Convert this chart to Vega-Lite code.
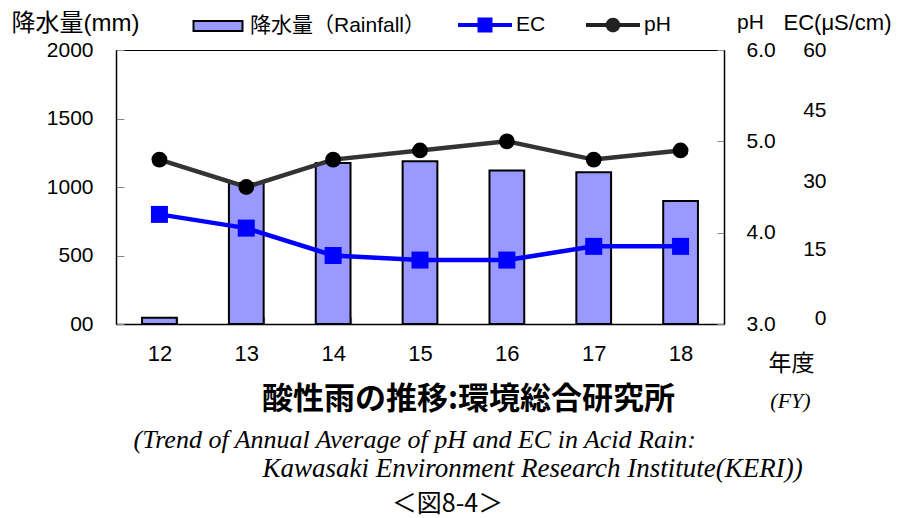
{
  "$schema": "https://vega.github.io/schema/vega-lite/v6.json",
  "width": 608,
  "height": 274,
  "autosize": {"type": "none"},
  "padding": {"left": 116, "top": 50, "right": 173, "bottom": 194},
  "background": "white",
  "data": {
    "values": [
      {"year": "12", "rain": 45, "ec": 24, "ph": 4.8},
      {"year": "13", "rain": 1030, "ec": 21, "ph": 4.5},
      {"year": "14", "rain": 1175, "ec": 15, "ph": 4.8},
      {"year": "15", "rain": 1188, "ec": 14, "ph": 4.9},
      {"year": "16", "rain": 1120, "ec": 14, "ph": 5.0},
      {"year": "17", "rain": 1108, "ec": 17, "ph": 4.8},
      {"year": "18", "rain": 898, "ec": 17, "ph": 4.9}
    ]
  },
  "config": {
    "view": {"stroke": "#000000", "strokeWidth": 1},
    "axis": {"grid": false, "labelColor": "#000000", "titleColor": "#000000", "titleFontWeight": "normal", "titleLimit": 1000, "labelLimit": 1000},
    "legend": {"labelFont": "Liberation Sans, Noto Sans CJK JP", "labelFontSize": 21, "labelColor": "#000000", "labelOffset": 4, "labelLimit": 400, "symbolSize": 2916, "symbolOpacity": 1, "padding": 0}
  },
  "resolve": {
    "scale": {"y": "independent"},
    "axis": {"x": "independent", "y": "independent"}
  },
  "layer": [
    {
      "mark": {"type": "bar", "stroke": "#000000", "strokeWidth": 2},
      "encoding": {
        "x": {
          "field": "year", "type": "ordinal",
          "scale": {"paddingInner": 0.6, "paddingOuter": 0.3},
          "axis": {
            "orient": "bottom", "labelAngle": 0, "labelFont": "Liberation Sans", "labelFontSize": 22,
            "labelPadding": 26, "labelBaseline": "top",
            "tickBand": "extent", "tickSize": -7, "tickColor": "#8c8c8c", "tickWidth": 1.2,
            "domainColor": "#000000", "domainWidth": 1.5,
            "title": "年度", "titleFont": "Noto Sans CJK JP", "titleFontSize": 23,
            "titleX": 675, "titleY": 39, "titleAlign": "center", "titleBaseline": "middle", "titleAngle": 0
          }
        },
        "y": {
          "field": "rain", "type": "quantitative",
          "scale": {"domain": [0, 2000]},
          "axis": {
            "orient": "left", "values": [0, 500, 1000, 1500, 2000], "format": "d",
            "labelExpr": "datum.value === 0 ? '00' : datum.label",
            "labelFont": "Liberation Sans", "labelFontSize": 21, "labelPadding": 31, "labelBaseline": "middle",
            "tickSize": -8, "tickColor": "#8c8c8c", "domainColor": "#000000", "domainWidth": 1.5,
            "title": "降水量(mm)", "titleFont": "Liberation Sans, Noto Sans CJK JP", "titleFontSize": 24,
            "titleX": -105, "titleY": -27, "titleAlign": "left", "titleBaseline": "middle", "titleAngle": 0
          }
        },
        "stroke": {"value": "#000000"},
        "strokeWidth": {"value": 2},
        "fill": {
          "datum": "降水量（Rainfall）", "type": "nominal",
          "scale": {"range": ["#9999FF"]},
          "legend": {
            "orient": "none", "legendX": 74, "legendY": -52, "title": null,
            "symbolType": "M-0.907,-0.185H0.907V0.185H-0.907Z",
            "symbolStrokeColor": "#000000", "symbolStrokeWidth": 2
          }
        }
      }
    },
    {
      "mark": {"type": "line", "strokeWidth": 4.5},
      "encoding": {
        "x": {
          "field": "year", "type": "ordinal",
          "axis": {
            "orient": "bottom", "labels": false, "ticks": false, "domain": false,
            "title": "(FY)", "titleFont": "Liberation Serif", "titleFontStyle": "italic", "titleFontSize": 22,
            "titleX": 674, "titleY": 76, "titleAlign": "center", "titleBaseline": "middle", "titleAngle": 0
          }
        },
        "y": {
          "field": "ec", "type": "quantitative",
          "scale": {"domain": [0, 60]},
          "axis": {
            "orient": "right", "values": [0, 15, 30, 45, 60], "ticks": false, "domain": false,
            "labelAlign": "right", "labelPadding": 102, "labelOffset": {"expr": "datum.value === 60 ? 0 : datum.value === 45 ? -8 : -6"},
            "labelFont": "Liberation Sans", "labelFontSize": 21, "labelBaseline": "middle",
            "title": "EC(μS/cm)", "titleFont": "Liberation Sans", "titleFontSize": 22,
            "titleX": 59, "titleY": -28, "titleAlign": "left", "titleBaseline": "middle", "titleAngle": 0
          }
        },
        "stroke": {
          "datum": "EC", "type": "nominal",
          "scale": {"range": ["#0000FF"]},
          "legend": {
            "orient": "none", "legendX": 342, "legendY": -52, "title": null,
            "symbolType": "M-1,-0.074H1V0.074H-1Z M-0.278,-0.278H0.278V0.278H-0.278Z",
            "symbolFillColor": "#0000FF", "symbolStrokeWidth": 0
          }
        }
      }
    },
    {
      "mark": {"type": "square", "filled": true, "color": "#0000FF", "size": 289, "opacity": 1},
      "encoding": {
        "x": {
          "field": "year", "type": "ordinal",
          "axis": {
            "orient": "bottom", "labels": false, "ticks": false, "domain": false,
            "title": "(Trend of Annual Average of pH and EC in Acid Rain:", "titleFont": "Liberation Serif",
            "titleFontStyle": "italic", "titleFontSize": 26,
            "titleX": 17, "titleY": 115, "titleAlign": "left", "titleBaseline": "middle", "titleAngle": 0
          }
        },
        "y": {
          "field": "ec", "type": "quantitative",
          "scale": {"domain": [0, 60]},
          "axis": {
            "orient": "left", "labels": false, "ticks": false, "domain": false,
            "title": "酸性雨の推移:環境総合研究所", "titleFont": "Noto Sans CJK JP", "titleFontWeight": "bold",
            "titleFontSize": 31, "titleX": 352, "titleY": 349, "titleAlign": "center", "titleBaseline": "middle",
            "titleAngle": 0
          }
        }
      }
    },
    {
      "mark": {"type": "line", "strokeWidth": 4.5},
      "encoding": {
        "x": {
          "field": "year", "type": "ordinal",
          "axis": {
            "orient": "bottom", "labels": false, "ticks": false, "domain": false,
            "title": "Kawasaki Environment Research Institute(KERI))", "titleFont": "Liberation Serif",
            "titleFontStyle": "italic", "titleFontSize": 27,
            "titleX": 146, "titleY": 144, "titleAlign": "left", "titleBaseline": "middle", "titleAngle": 0
          }
        },
        "y": {
          "field": "ph", "type": "quantitative",
          "scale": {"domain": [3, 6]},
          "axis": {
            "orient": "right", "values": [3, 4, 5, 6], "format": ".1f",
            "tickSize": -7, "tickColor": "#8c8c8c", "domainColor": "#000000", "domainWidth": 1.5,
            "labelAlign": "left", "labelPadding": 29, "labelFont": "Liberation Sans", "labelFontSize": 21,
            "labelBaseline": "middle",
            "title": "pH", "titleFont": "Liberation Sans", "titleFontSize": 21,
            "titleX": 26, "titleY": -28, "titleAlign": "center", "titleBaseline": "middle", "titleAngle": 0
          }
        },
        "color": {
          "datum": "pH", "type": "nominal",
          "scale": {"range": ["#333333"]},
          "legend": {
            "orient": "none", "legendX": 470, "legendY": -52, "title": null,
            "symbolType": "M-1,-0.074H1V0.074H-1Z M0.27,0A0.27,0.27 0 1,1 -0.27,0A0.27,0.27 0 1,1 0.27,0Z",
            "symbolFillColor": "#222222", "symbolStrokeWidth": 0
          }
        }
      }
    },
    {
      "mark": {"type": "circle", "color": "#000000", "size": 250, "opacity": 1},
      "encoding": {
        "x": {
          "field": "year", "type": "ordinal",
          "axis": {
            "orient": "bottom", "labels": false, "ticks": false, "domain": false,
            "title": "＜図8-4＞", "titleFont": "Noto Sans CJK JP", "titleFontSize": 25,
            "titleX": 331, "titleY": 179, "titleAlign": "center", "titleBaseline": "middle", "titleAngle": 0
          }
        },
        "y": {
          "field": "ph", "type": "quantitative",
          "scale": {"domain": [3, 6]},
          "axis": null
        }
      }
    }
  ]
}
